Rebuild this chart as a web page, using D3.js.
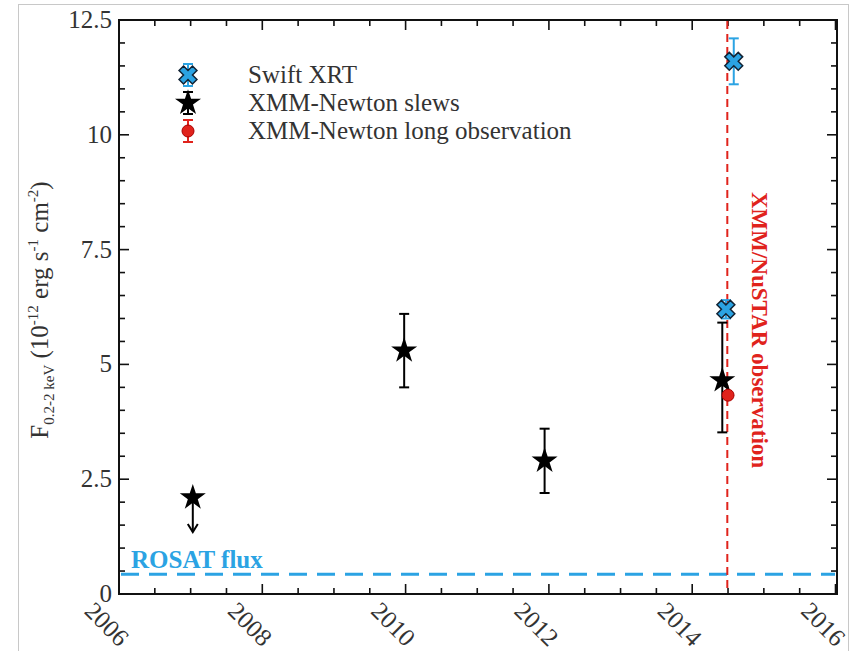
<!DOCTYPE html>
<html><head><meta charset="utf-8">
<script src="https://cdn.jsdelivr.net/npm/d3@7"></script>
<style>body{margin:0;background:#fff}svg{display:block}</style>
</head><body><svg id="c" width="852" height="651"></svg>
<script>
// ---- data ----
const xTicks = [2006, 2008, 2010, 2012, 2014, 2016];
const yTicks = [0, 2.5, 5, 7.5, 10, 12.5];
const yTickLabels = ["0", "2.5", "5", "7.5", "10", "12.5"];
const slewYears = [2007.03, 2009.98, 2011.94, 2014.42];
const slewFlux = [2.1, 5.3, 2.9, 4.65];
const slewLow = [null, 4.5, 2.2, 3.52];
const slewHigh = [null, 6.1, 3.6, 5.91];
const slewUpperLimitTo = [1.35, null, null, null];
const swiftYears = [2014.47, 2014.58];
const swiftFlux = [6.2, 11.6];
const swiftErr = [0.2, 0.5];
const longYears = [2014.50];
const longFlux = [4.33];
const longErr = [0.08];
const obsYear = 2014.49;
const rosatFlux = 0.43;
const legendLabels = ["Swift XRT", "XMM-Newton slews", "XMM-Newton long observation"];

const FONT = "'Liberation Serif', 'DejaVu Serif', serif";
const blue = "#2ba3e3", red = "#e0231c";
const svg = d3.select("#c").attr("font-family", FONT);
const L = 119, R = 837, T = 20, B = 594;
const x = d3.scaleLinear().domain([2006, 2016]).range([L, 835.5]);
const y = d3.scaleLinear().domain([0, 12.5]).range([B, T]);

// outer screenshot frame
svg.append("rect").attr("x", 18.5).attr("y", 4.5).attr("width", 830).attr("height", 650)
  .attr("fill", "none").attr("stroke", "#c8c8c8").attr("stroke-width", 1);

// frame
svg.append("rect").attr("x", L).attr("y", T).attr("width", R - L).attr("height", B - T)
  .attr("fill", "none").attr("stroke", "#111").attr("stroke-width", 2);

// ticks (inward, mirrored)
const xMinor = d3.range(2006, 2016.01, 0.5);
const yMinor = d3.range(0, 12.51, 0.5);
const tg = svg.append("g").attr("stroke", "#111").attr("stroke-width", 1.6);
xMinor.forEach(v => {
  const major = Math.abs(v % 2) < 1e-6;
  const len = major ? 10 : 6;
  tg.append("line").attr("x1", x(v)).attr("x2", x(v)).attr("y1", B).attr("y2", B - len);
  tg.append("line").attr("x1", x(v)).attr("x2", x(v)).attr("y1", T).attr("y2", T + len);
});
yMinor.forEach(v => {
  const major = Math.abs((v / 2.5) - Math.round(v / 2.5)) < 1e-6;
  const len = major ? 10 : 6;
  tg.append("line").attr("x1", L).attr("x2", L + len).attr("y1", y(v)).attr("y2", y(v));
  tg.append("line").attr("x1", R).attr("x2", R - len).attr("y1", y(v)).attr("y2", y(v));
});

// tick labels
yTicks.forEach((v, i) => {
  svg.append("text").attr("x", 112).attr("y", y(v) + 8).attr("text-anchor", "end")
    .attr("font-family", FONT).attr("font-size", 25).attr("fill", "#333").text(yTickLabels[i]);
});
xTicks.forEach(v => {
  svg.append("text").attr("transform", `translate(${x(v) - 12},${624}) rotate(45)`)
    .attr("text-anchor", "middle").attr("dy", "0.35em")
    .attr("font-family", FONT).attr("font-size", 25).attr("fill", "#333").text(v);
});

// y label
const yl = svg.append("text").attr("transform", "translate(48,310) rotate(-90)")
  .attr("text-anchor", "middle").attr("font-family", FONT).attr("font-size", 25).attr("fill", "#333");
yl.append("tspan").text("F");
yl.append("tspan").attr("font-size", 15).attr("dy", 6).text("0.2-2 keV");
yl.append("tspan").attr("dy", -6).text(" (10");
yl.append("tspan").attr("font-size", 15).attr("dy", -10).text("-12");
yl.append("tspan").attr("dy", 10).text(" erg s");
yl.append("tspan").attr("font-size", 15).attr("dy", -10).text("-1");
yl.append("tspan").attr("dy", 10).text(" cm");
yl.append("tspan").attr("font-size", 15).attr("dy", -10).text("-2");
yl.append("tspan").attr("dy", 10).text(")");

// ROSAT line
svg.append("line").attr("x1", L + 2).attr("x2", R - 2).attr("y1", y(rosatFlux)).attr("y2", y(rosatFlux))
  .attr("stroke", blue).attr("stroke-width", 3).attr("stroke-dasharray", "18,10");
svg.append("text").attr("x", 131).attr("y", y(rosatFlux) - 6).attr("font-size", 25)
  .attr("font-family", FONT).attr("font-weight", "bold").attr("fill", blue).text("ROSAT flux");

// XMM/NuSTAR line
svg.append("line").attr("x1", x(obsYear)).attr("x2", x(obsYear)).attr("y1", T + 1).attr("y2", B - 1)
  .attr("stroke", red).attr("stroke-width", 2).attr("stroke-dasharray", "8,5");
svg.append("text").attr("transform", `translate(752,330) rotate(90)`).attr("text-anchor", "middle")
  .attr("font-family", FONT).attr("font-size", 23).attr("font-weight", "bold").attr("fill", red).text("XMM/NuSTAR observation");

// helpers
function errBar(g, cx, y1, y2, color, w, cap) {
  g.append("line").attr("x1", cx).attr("x2", cx).attr("y1", y1).attr("y2", y2).attr("stroke", color).attr("stroke-width", w);
  g.append("line").attr("x1", cx - cap).attr("x2", cx + cap).attr("y1", y1).attr("y2", y1).attr("stroke", color).attr("stroke-width", w);
  g.append("line").attr("x1", cx - cap).attr("x2", cx + cap).attr("y1", y2).attr("y2", y2).attr("stroke", color).attr("stroke-width", w);
}
const star = d3.symbol().type(d3.symbolStar).size(210);
const cross = d3.symbol().type(d3.symbolCross).size(200);
function drawStar(g, cx, cy) {
  g.append("path").attr("d", star()).attr("transform", `translate(${cx},${cy})`).attr("fill", "#000");
}
function drawCross(g, cx, cy) {
  g.append("path").attr("d", cross()).attr("transform", `translate(${cx},${cy}) rotate(45)`)
    .attr("fill", blue).attr("stroke", "#123").attr("stroke-width", 1.5);
}
function drawCircle(g, cx, cy) {
  g.append("circle").attr("cx", cx).attr("cy", cy).attr("r", 6).attr("fill", red).attr("stroke", "#a00").attr("stroke-width", 1);
}

const pg = svg.append("g");
// slews
slewYears.forEach((yr, i) => {
  const cx = x(yr), cy = y(slewFlux[i]);
  if (slewUpperLimitTo[i] != null) {
    const ye = y(slewUpperLimitTo[i]);
    pg.append("line").attr("x1", cx).attr("x2", cx).attr("y1", cy).attr("y2", ye).attr("stroke", "#000").attr("stroke-width", 2);
    pg.append("path").attr("d", `M${cx - 5},${ye - 8} L${cx},${ye} L${cx + 5},${ye - 8}`).attr("fill", "none").attr("stroke", "#000").attr("stroke-width", 2);
  } else {
    errBar(pg, cx, y(slewHigh[i]), y(slewLow[i]), "#000", 2, 5);
  }
  drawStar(pg, cx, cy);
});
// long observation
longYears.forEach((yr, i) => {
  const cx = x(yr);
  errBar(pg, cx, y(longFlux[i] + longErr[i]), y(longFlux[i] - longErr[i]), red, 2, 4);
  drawCircle(pg, cx, y(longFlux[i]));
});
// swift
swiftYears.forEach((yr, i) => {
  const cx = x(yr);
  errBar(pg, cx, y(swiftFlux[i] + swiftErr[i]), y(swiftFlux[i] - swiftErr[i]), blue, 2, 5);
  drawCross(pg, cx, y(swiftFlux[i]));
});

// legend
const lg = svg.append("g");
const lx = 188, ly = [75, 103, 131];
errBar(lg, lx, ly[0] - 11, ly[0] + 11, blue, 2, 5); drawCross(lg, lx, ly[0]);
errBar(lg, lx, ly[1] - 11, ly[1] + 11, "#000", 2, 5); drawStar(lg, lx, ly[1]);
errBar(lg, lx, ly[2] - 11, ly[2] + 11, red, 2, 5); drawCircle(lg, lx, ly[2]);
legendLabels.forEach((t, i) => {
  lg.append("text").attr("x", 248).attr("y", ly[i] + 8).attr("font-family", FONT).attr("font-size", 25).attr("fill", "#333").text(t);
});
</script></body></html>
